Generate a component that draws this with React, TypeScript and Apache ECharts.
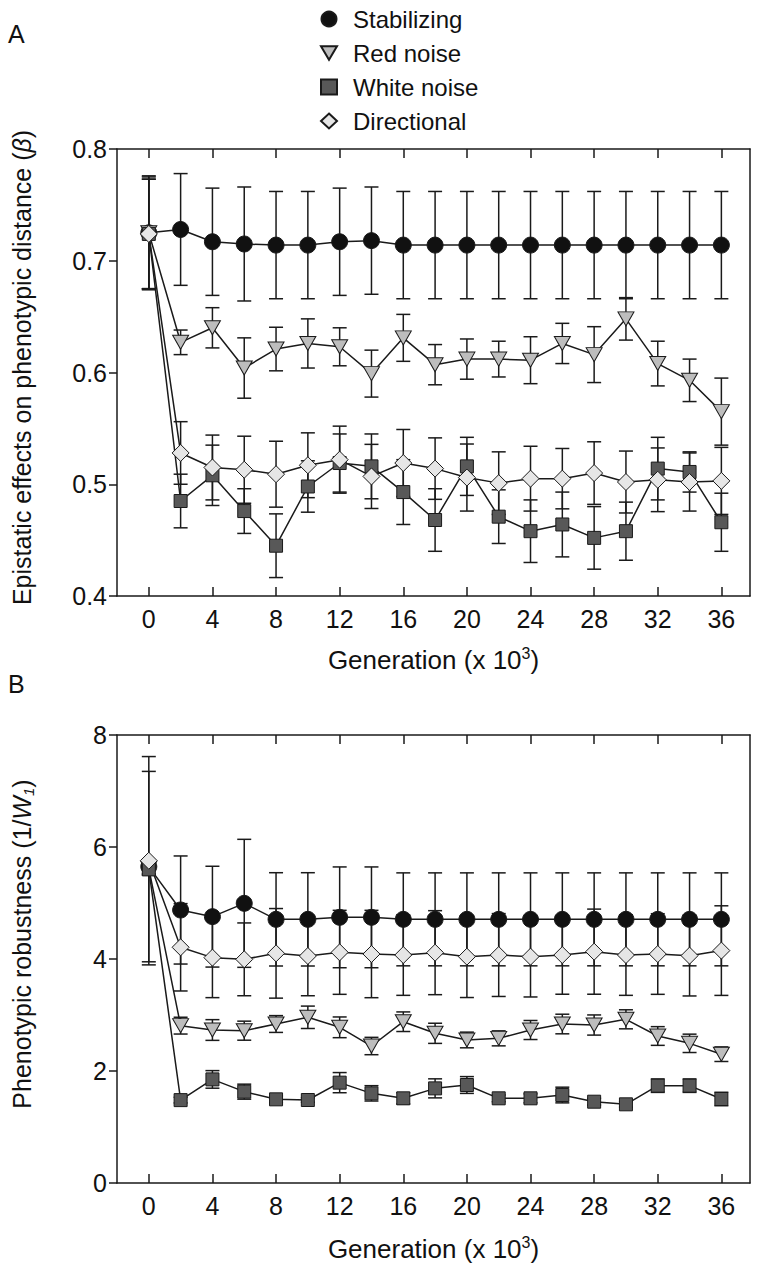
import React, { useEffect, useRef } from "react";
import * as echarts from "echarts";

// ---------- data ----------
const generations = [0, 2, 4, 6, 8, 10, 12, 14, 16, 18, 20, 22, 24, 26, 28, 30, 32, 34, 36];
const xTicks = [0, 4, 8, 12, 16, 20, 24, 28, 32, 36];
const seriesNames = ["Stabilizing", "Red noise", "White noise", "Directional"];

// Panel A: epistatic effects on phenotypic distance (beta)
const stabA = [0.725, 0.728, 0.717, 0.715, 0.714, 0.714, 0.717, 0.718, 0.714, 0.714, 0.714, 0.714, 0.714, 0.714, 0.714, 0.714, 0.714, 0.714, 0.714];
const stabAErr = [0.051, 0.05, 0.048, 0.051, 0.048, 0.048, 0.048, 0.048, 0.048, 0.048, 0.048, 0.048, 0.048, 0.048, 0.048, 0.048, 0.048, 0.048, 0.048];
const redA = [0.725, 0.627, 0.640, 0.604, 0.621, 0.626, 0.623, 0.599, 0.631, 0.607, 0.612, 0.612, 0.611, 0.626, 0.616, 0.648, 0.608, 0.593, 0.565];
const redAErr = [0.05, 0.011, 0.018, 0.027, 0.0195, 0.022, 0.017, 0.021, 0.021, 0.018, 0.018, 0.016, 0.021, 0.018, 0.025, 0.019, 0.02, 0.019, 0.03];
const whiteA = [0.724, 0.485, 0.508, 0.476, 0.445, 0.498, 0.519, 0.516, 0.493, 0.468, 0.516, 0.471, 0.458, 0.464, 0.452, 0.458, 0.514, 0.511, 0.466];
const whiteAErr = [0.049, 0.024, 0.027, 0.02, 0.0285, 0.023, 0.026, 0.029, 0.029, 0.028, 0.026, 0.024, 0.028, 0.029, 0.028, 0.026, 0.028, 0.018, 0.026];
const dirA = [0.724, 0.528, 0.515, 0.513, 0.509, 0.517, 0.522, 0.507, 0.519, 0.514, 0.506, 0.501, 0.505, 0.505, 0.51, 0.502, 0.504, 0.502, 0.503];
const dirAErr = [0.049, 0.028, 0.029, 0.03, 0.0295, 0.029, 0.03, 0.0287, 0.03, 0.0275, 0.03, 0.028, 0.029, 0.027, 0.028, 0.0277, 0.0285, 0.026, 0.03];

// Panel B: phenotypic robustness (1/W1)
const stabB = [5.65, 4.875, 4.756, 4.994, 4.708, 4.708, 4.744, 4.744, 4.708, 4.708, 4.708, 4.708, 4.708, 4.708, 4.708, 4.708, 4.708, 4.708, 4.708];
const stabBErr = [1.7, 0.965, 0.9, 1.143, 0.833, 0.833, 0.9, 0.9, 0.83, 0.83, 0.83, 0.83, 0.83, 0.83, 0.83, 0.83, 0.83, 0.83, 0.83];
const redB = [5.62, 2.81, 2.732, 2.72, 2.839, 2.959, 2.78, 2.446, 2.88, 2.673, 2.554, 2.583, 2.732, 2.839, 2.821, 2.923, 2.625, 2.494, 2.3];
const redBErr = [0.1, 0.15, 0.185, 0.17, 0.15, 0.2, 0.185, 0.155, 0.175, 0.18, 0.14, 0.134, 0.17, 0.175, 0.18, 0.17, 0.167, 0.164, 0.13];
const whiteB = [5.6, 1.48, 1.85, 1.631, 1.494, 1.482, 1.792, 1.601, 1.512, 1.69, 1.75, 1.512, 1.512, 1.571, 1.452, 1.405, 1.738, 1.738, 1.5];
const whiteBErr = [0.1, 0.05, 0.157, 0.134, 0.06, 0.04, 0.18, 0.137, 0.1, 0.17, 0.15, 0.06, 0.08, 0.14, 0.06, 0.05, 0.12, 0.12, 0.12];
const dirB = [5.755, 4.209, 4.024, 3.994, 4.101, 4.054, 4.119, 4.089, 4.071, 4.113, 4.042, 4.071, 4.042, 4.071, 4.131, 4.071, 4.089, 4.06, 4.15];
const dirBErr = [1.86, 0.78, 0.714, 0.65, 0.8, 0.71, 0.75, 0.78, 0.72, 0.75, 0.73, 0.74, 0.72, 0.7, 0.76, 0.72, 0.72, 0.72, 0.8];

// ---------- styles ----------
const FONT = '"Liberation Sans", Arial, Helvetica, sans-serif';
const INK = "#111111";
const X_MIN = -2;
const X_MAX = 37.8;

const styles = [
  { symbol: "circle", size: [16, 16], rotate: 0, fill: "#111111", icon: "circle" },
  { symbol: "triangle", size: [16, 14], rotate: 180, fill: "#bdbdbd", icon: "path://M0,0L20,0L10,17Z" },
  { symbol: "rect", size: [13, 13], rotate: 0, fill: "#585858", icon: "rect" },
  { symbol: "diamond", size: [17, 17], rotate: 0, fill: "#e6e6e6", icon: "diamond" },
];

const panelA = [
  [stabA, stabAErr],
  [redA, redAErr],
  [whiteA, whiteAErr],
  [dirA, dirAErr],
];
const panelB = [
  [stabB, stabBErr],
  [redB, redBErr],
  [whiteB, whiteBErr],
  [dirB, dirBErr],
];

function errorSeries(vals: number[], errs: number[], gi: number) {
  return {
    type: "custom",
    xAxisIndex: gi * 2,
    yAxisIndex: gi * 2,
    z: 1,
    silent: true,
    encode: { x: 0, y: [1, 2] },
    data: generations.map((g, i) => [g, vals[i] - errs[i], vals[i] + errs[i]]),
    renderItem: (params: any, api: any) => {
      const x = api.value(0);
      const lo = api.coord([x, api.value(1)]);
      const hi = api.coord([x, api.value(2)]);
      const w = 7;
      const st = { stroke: "#1a1a1a", lineWidth: 1.5 };
      return {
        type: "group",
        children: [
          { type: "line", shape: { x1: hi[0], y1: hi[1], x2: lo[0], y2: lo[1] }, style: st },
          { type: "line", shape: { x1: hi[0] - w, y1: hi[1], x2: hi[0] + w, y2: hi[1] }, style: st },
          { type: "line", shape: { x1: lo[0] - w, y1: lo[1], x2: lo[0] + w, y2: lo[1] }, style: st },
        ],
      };
    },
  };
}

function lineSeries(name: string, vals: number[], k: number, gi: number) {
  const s = styles[k];
  return {
    type: "line",
    name,
    xAxisIndex: gi * 2,
    yAxisIndex: gi * 2,
    z: 3,
    data: generations.map((g, i) => [g, vals[i]]),
    symbol: s.symbol,
    symbolSize: s.size,
    symbolRotate: s.rotate,
    showAllSymbol: true,
    lineStyle: { color: "#1a1a1a", width: 1.5 },
    itemStyle: { color: s.fill, borderColor: "#1a1a1a", borderWidth: 1 },
    emphasis: { disabled: true },
  };
}

const axisLineStyle = { color: "#1a1a1a", width: 1.5 };

function xAxes(gi: number) {
  return [
    {
      type: "value",
      gridIndex: gi,
      position: "bottom",
      min: X_MIN,
      max: X_MAX,
      axisLine: { show: true, onZero: false, lineStyle: axisLineStyle },
      axisTick: { show: true, inside: true, length: 9, customValues: xTicks, lineStyle: axisLineStyle },
      axisLabel: { show: true, customValues: xTicks, margin: 10, fontSize: 25, color: INK, fontFamily: FONT },
      splitLine: { show: false },
      name: "Generation (x 10{sup|3})",
      nameLocation: "middle",
      nameGap: gi === 0 ? 49 : 51,
      nameTextStyle: {
        fontSize: 26,
        lineHeight: 30,
        color: INK,
        fontFamily: FONT,
        rich: { sup: { fontSize: 16, lineHeight: 15, verticalAlign: "top", color: INK, fontFamily: FONT } },
      },
    },
    {
      type: "value",
      gridIndex: gi,
      position: "top",
      min: X_MIN,
      max: X_MAX,
      axisLine: { show: true, onZero: false, lineStyle: axisLineStyle },
      axisTick: { show: true, inside: true, length: 9, customValues: xTicks, lineStyle: axisLineStyle },
      axisLabel: { show: false },
      splitLine: { show: false },
    },
  ];
}

function yAxes(
  gi: number,
  min: number,
  max: number,
  interval: number,
  name: string,
  rich: any,
  fmt: (v: number) => string,
  shiftUp: number
) {
  return [
    {
      type: "value",
      gridIndex: gi,
      position: "left",
      min,
      max,
      interval,
      axisLine: { show: true, onZero: false, lineStyle: axisLineStyle },
      axisTick: { show: true, inside: false, length: 8, lineStyle: axisLineStyle },
      axisLabel: { show: true, margin: 10, fontSize: 25, color: INK, fontFamily: FONT, formatter: fmt },
      splitLine: { show: false },
      name,
      nameLocation: "middle",
      nameGap: 81,
      nameTextStyle: {
        fontSize: 25,
        lineHeight: 28,
        color: INK,
        fontFamily: FONT,
        padding: [0, 0, 0, shiftUp * 2],
        rich,
      },
    },
    {
      type: "value",
      gridIndex: gi,
      position: "right",
      min,
      max,
      interval,
      axisLine: { show: true, onZero: false, lineStyle: axisLineStyle },
      axisTick: { show: false },
      axisLabel: { show: false },
      splitLine: { show: false },
    },
  ];
}

export default function App() {
  const ref = useRef<HTMLDivElement>(null);

  useEffect(() => {
    document.body.style.margin = "0";
    if (!ref.current) return;
    const chart = echarts.init(ref.current, null, { renderer: "svg" });

    const series: any[] = [];
    panelA.forEach(([v, e]) => series.push(errorSeries(v, e, 0)));
    panelB.forEach(([v, e]) => series.push(errorSeries(v, e, 1)));
    panelA.forEach(([v], k) => series.push(lineSeries(seriesNames[k], v, k, 0)));
    panelB.forEach(([v], k) => series.push(lineSeries(seriesNames[k], v, k, 1)));

    const itStyle = { fontStyle: "italic", fontSize: 25, color: INK, fontFamily: FONT };

    chart.setOption({
      animation: false,
      backgroundColor: "#ffffff",
      textStyle: { fontFamily: FONT },
      grid: [
        { left: 113, top: 149, width: 637, height: 447 },
        { left: 113, top: 735, width: 637, height: 448 },
      ],
      legend: {
        orient: "vertical",
        left: 315,
        top: 2,
        itemGap: 10,
        itemWidth: 16,
        itemHeight: 15,
        selectedMode: false,
        textStyle: { fontSize: 24, lineHeight: 24, color: INK, fontFamily: FONT, padding: [0, 0, 0, 11] },
        data: seriesNames.map((n, k) => ({ name: n, icon: styles[k].icon })),
      },
      xAxis: [...xAxes(0), ...xAxes(1)],
      yAxis: [
        ...yAxes(
          0,
          0.4,
          0.8,
          0.1,
          "Epistatic effects on phenotypic distance ({it|β})",
          { it: itStyle },
          (v: number) => v.toFixed(1),
          5
        ),
        ...yAxes(
          1,
          0,
          8,
          2,
          "Phenotypic robustness (1/{it|W}{sub|1})",
          {
            it: itStyle,
            sub: { fontStyle: "italic", fontSize: 15, lineHeight: 12, verticalAlign: "bottom", color: INK, fontFamily: FONT },
          },
          (v: number) => String(v),
          15
        ),
      ],
      graphic: [
        { type: "text", left: 8, top: 21, style: { text: "A", fontSize: 25, fill: INK, fontFamily: FONT } },
        { type: "text", left: 8, top: 671, style: { text: "B", fontSize: 25, fill: INK, fontFamily: FONT } },
      ],
      series,
    });

    return () => chart.dispose();
  }, []);

  return <div ref={ref} style={{ width: 760, height: 1271 }} />;
}
